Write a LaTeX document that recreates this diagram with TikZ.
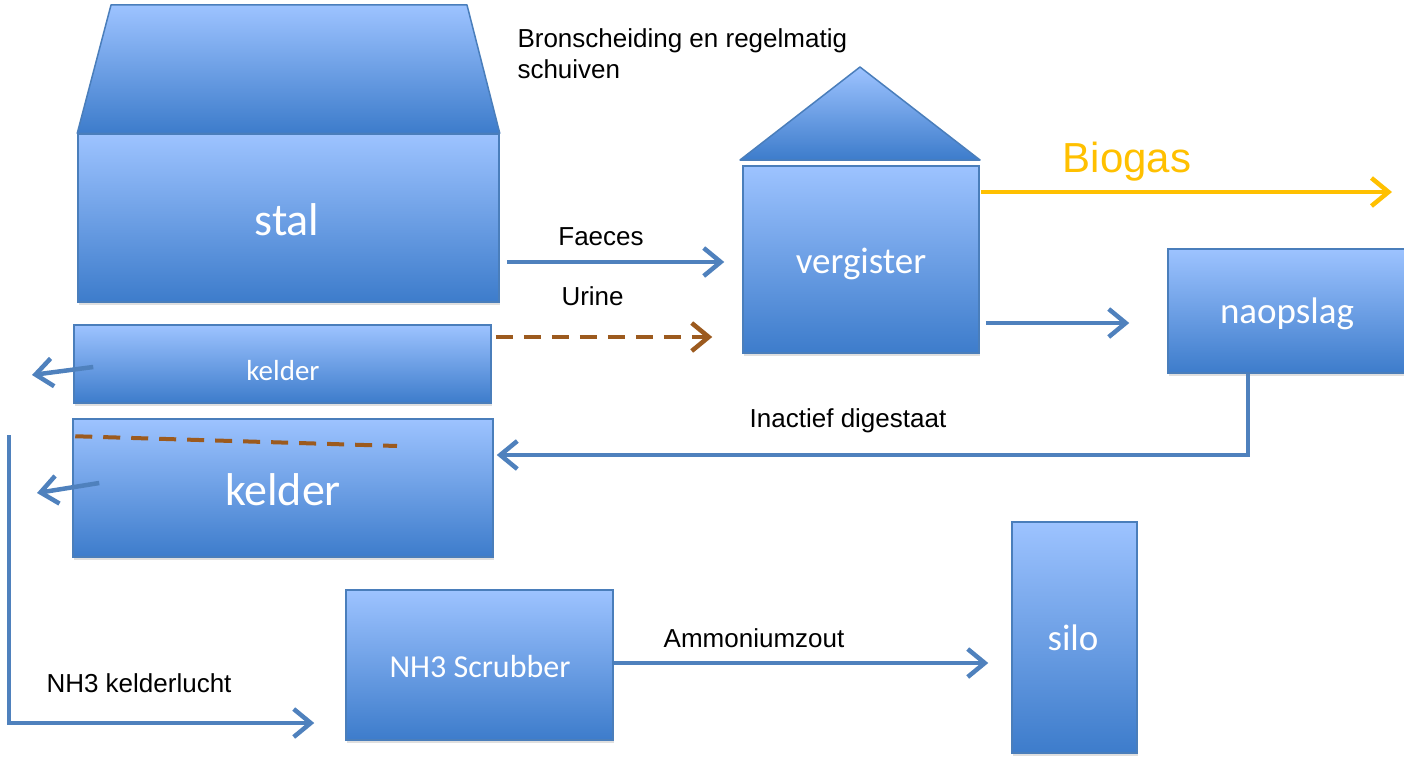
\documentclass[tikz,border=0pt]{standalone}
\usepackage{fontspec}
\setmainfont{Liberation Sans}
\newfontfamily\boxfont{Carlito}
\usetikzlibrary{arrows.meta,shadows}
\definecolor{boxtop}{HTML}{9DC3FF}
\definecolor{boxbot}{HTML}{3D7CCB}
\definecolor{boxline}{HTML}{4A7EBB}
\definecolor{flowblue}{HTML}{4F81BD}
\definecolor{urine}{HTML}{9C5A1E}
\definecolor{gas}{HTML}{FFC000}

\begin{document}
\begin{tikzpicture}
    [x=1pt,y=-1pt,
     box/.style={rectangle, draw=boxline, line width=1.5pt, top color=boxtop, bottom color=boxbot,
       inner sep=0pt, drop shadow={shadow xshift=1pt,shadow yshift=-3pt,opacity=0.25}},
     roof/.style={draw=boxline, line width=1.5pt, line join=round, top color=boxtop, bottom color=boxbot},
     flow/.style={draw=flowblue, line width=4.5pt, -{Straight Barb[length=17pt,width=28pt]}},
     lbl/.style={font=\fontsize{26}{31}\selectfont, anchor=base},
     boxtxt/.style={text=white, anchor=base}]
    \useasboundingbox (0,0) rectangle (1404,757);

    % boxes
    \node[box, minimum width=421pt, minimum height=168pt] (stal) at (288.5,218) {};
    \draw[roof] (111,5) -- (467,5) -- (stal.north east) -- (stal.north west) -- cycle;
    \node[box, minimum width=417pt, minimum height=78pt] (kelderA) at (282.5,364) {};
    \node[box, minimum width=420pt, minimum height=138pt] (kelderB) at (283,488) {};
    \draw[roof] (740,160) -- (860,67) -- (980,160) -- cycle;
    \node[box, minimum width=236pt, minimum height=187pt] (vergister) at (861,259.5) {};
    \node[box, minimum width=242pt, minimum height=124pt] (naopslag) at (1289,311) {};
    \node[box, minimum width=267pt, minimum height=150pt] (scrubber) at (479.5,665) {};
    \node[box, minimum width=125pt, minimum height=231pt] (silo) at (1074.5,637.5) {};

    % box texts
    \node[boxtxt, font=\boxfont\fontsize{46}{46}\selectfont] at (287,235) {stal};
    \node[boxtxt, font=\boxfont\fontsize{29}{29}\selectfont] at (283,380) {kelder};
    \node[boxtxt, font=\boxfont\fontsize{46}{46}\selectfont] at (283,505) {kelder};
    \node[boxtxt, font=\boxfont\fontsize{37}{37}\selectfont] at (861,273) {vergister};
    \node[boxtxt, font=\boxfont\fontsize{37}{37}\selectfont] at (1287,323) {naopslag};
    \node[boxtxt, font=\boxfont\fontsize{32}{32}\selectfont] at (480,677) {NH3 Scrubber};
    \node[boxtxt, font=\boxfont\fontsize{37}{37}\selectfont] at (1073,650) {silo};

    % level line in the deep cellar
    \draw[urine, line width=4pt, dash pattern=on 17pt off 11pt] ([xshift=3pt,yshift=-18pt]kelderB.north west) -- (397,446);

    % free ends
    \coordinate (gasout) at (1392,192);
    \coordinate (airin) at (9,435);
    \coordinate (leakA) at (32,375);
    \coordinate (leakB) at (37,493);

    % flows
    \draw[flow] ([xshift=7pt,yshift=-44pt]stal.east) -- ([xshift=-18pt,yshift=-2.5pt]vergister.west);
    \draw[flow, draw=urine, dash pattern=on 17pt off 11pt] ([xshift=4pt,yshift=27pt]kelderA.east) -- ([xshift=-30pt,yshift=-77.5pt]vergister.west);
    \draw[flow, draw=gas] ([xshift=1pt,yshift=67.5pt]vergister.east) -- (gasout);
    \draw[flow] ([xshift=6pt,yshift=-63.5pt]vergister.east) -- ([xshift=-38pt,yshift=-12pt]naopslag.west);
    \draw[flow] ([xshift=-41pt]naopslag.south) |- ([xshift=3pt,yshift=33pt]kelderB.east);
    \draw[flow] (airin) |- ([xshift=-31pt,yshift=-58pt]scrubber.west);
    \draw[flow] ([yshift=2pt]scrubber.east) -- ([xshift=-23pt,yshift=-25.5pt]silo.west);
    \draw[flow] ([xshift=20pt,yshift=-3pt]kelderA.west) -- (leakA);
    \draw[flow] ([xshift=27pt,yshift=5pt]kelderB.west) -- (leakB);

    % labels
    \node[lbl, anchor=base west, align=left] at (514,79) {Bronscheiding en regelmatig\\schuiven};
    \node[lbl] at (601,245) {Faeces};
    \node[lbl, anchor=base west] at (558,305) {Urine};
    \node[lbl, text=gas, font=\fontsize{42}{42}\selectfont] at (1127,172) {Biogas};
    \node[lbl] at (848,427) {Inactief digestaat};
    \node[lbl, anchor=base west] at (43,692) {NH3 kelderlucht};
    \node[lbl] at (754,647) {Ammoniumzout};
  \end{tikzpicture}
\end{document}
